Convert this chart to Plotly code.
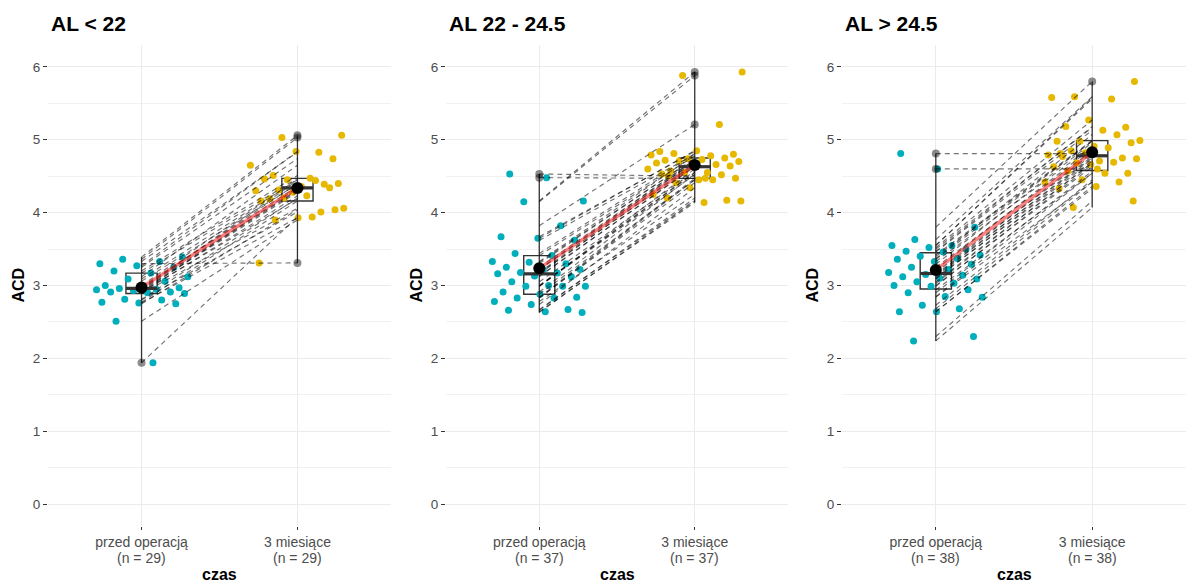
import numpy as np
import plotly.graph_objects as go

# ---- data -----------------------------------------------------------------
panel_titles = ["AL < 22", "AL 22 - 24.5", "AL > 24.5"]
time_labels = ["przed operacją", "3 miesiące"]
x_title = "czas"
y_title = "ACD"
y_ticks = [0, 1, 2, 3, 4, 5, 6]

# ACD per eye: before surgery and 3 months later (same order = same eye)
acd_pre_al_lt22 = [1.94, 2.51, 2.75, 2.76, 2.77, 2.80, 2.81, 2.89, 2.90, 2.91,
                   2.91, 2.93, 2.94, 2.95, 2.96, 2.97, 2.98, 3.00, 3.06, 3.09,
                   3.12, 3.17, 3.20, 3.25, 3.27, 3.30, 3.33, 3.36, 3.39]
acd_post_al_lt22 = [3.94, 3.90, 4.04, 3.93, 4.16, 4.01, 4.20, 4.06, 4.23, 4.19,
                    4.34, 4.28, 4.30, 4.44, 4.31, 4.40, 4.36, 4.46, 4.39, 4.45,
                    4.65, 4.47, 4.51, 4.74, 4.84, 3.31, 4.83, 5.03, 5.06]

acd_pre_al_mid = [2.63, 2.64, 2.66, 2.67, 2.74, 2.78, 2.83, 2.83, 2.84, 2.88,
                  2.91, 2.99, 2.99, 2.99, 3.00, 3.05, 3.12, 3.13, 3.16, 3.17,
                  3.18, 3.22, 3.22, 3.25, 3.30, 3.32, 3.33, 3.41, 3.44, 3.62,
                  3.65, 3.67, 3.82, 4.15, 4.16, 4.48, 4.53]
acd_post_al_mid = [4.16, 4.14, 4.20, 4.17, 4.34, 4.25, 4.45, 4.41, 4.47, 4.45,
                   4.53, 4.52, 4.55, 4.60, 4.55, 4.57, 4.64, 4.63, 4.68, 4.66,
                   4.71, 4.70, 4.73, 4.72, 4.75, 4.74, 4.79, 4.78, 4.81, 4.80,
                   4.85, 4.84, 5.21, 5.88, 5.93, 4.47, 4.50]

acd_pre_al_gt245 = [2.24, 2.30, 2.64, 2.64, 2.68, 2.73, 2.84, 2.85, 2.90, 2.94,
                    2.99, 3.00, 3.03, 3.05, 3.09, 3.10, 3.12, 3.14, 3.15, 3.18,
                    3.22, 3.25, 3.29, 3.33, 3.36, 3.37, 3.40, 3.42, 3.46, 3.47,
                    3.50, 3.52, 3.55, 3.55, 3.63, 3.80, 4.60, 4.81]
acd_post_al_gt245 = [4.07, 4.16, 4.36, 4.33, 4.42, 4.45, 4.42, 4.54, 4.57, 4.54,
                     4.66, 4.63, 4.69, 4.68, 4.74, 4.71, 4.77, 4.75, 4.82, 4.79,
                     4.89, 4.85, 4.96, 4.91, 4.98, 5.07, 4.98, 4.99, 5.13, 5.18,
                     5.17, 5.27, 5.58, 5.56, 5.59, 5.80, 4.60, 4.81]

panels = [
    (panel_titles[0], acd_pre_al_lt22, acd_post_al_lt22),
    (panel_titles[1], acd_pre_al_mid, acd_post_al_mid),
    (panel_titles[2], acd_pre_al_gt245, acd_post_al_gt245),
]

# ---- styling ----------------------------------------------------------------
W, H = 1189, 583
FONT = "Liberation Sans, Arial, sans-serif"
GROUP_COLORS = ["#00AFBB", "#E7B800"]
INK = "#333333"
TICK_TXT = "#4D4D4D"
GRID = "#EBEBEB"
X_POS = [1, 2]
BOX_W = 0.2

# plot-area pixel boxes (left, right) and shared vertical extent
panel_px = [(48, 391), (446, 788), (842, 1186)]
top_px, bottom_px = 45, 526
y_dom = [1 - bottom_px / H, 1 - top_px / H]

fig = go.Figure()
golden = 0.6180339887

for p, (title, pre, post) in enumerate(panels):
    xa = "x" if p == 0 else f"x{p + 1}"
    ya = "y" if p == 0 else f"y{p + 1}"
    common = dict(xaxis=xa, yaxis=ya, showlegend=False, hoverinfo="skip")
    groups = [np.asarray(pre, float), np.asarray(post, float)]

    # jittered raw observations
    for g, vals in enumerate(groups):
        k = np.arange(len(vals)) + 1 + 13 * g + 7 * p
        jit = ((k * golden) % 1.0 - 0.5) * 0.62
        fig.add_trace(go.Scatter(
            x=X_POS[g] + jit, y=vals, mode="markers",
            marker=dict(color=GROUP_COLORS[g], size=7, line=dict(width=0)),
            **common))

    q1 = [float(np.percentile(v, 25)) for v in groups]
    med = [float(np.percentile(v, 50)) for v in groups]
    q3 = [float(np.percentile(v, 75)) for v in groups]
    means = [float(v.mean()) for v in groups]

    # boxes (translucent white over the points)
    fig.add_trace(go.Box(
        x=X_POS, q1=q1, median=med, q3=q3, lowerfence=q1, upperfence=q3,
        orientation="v", width=BOX_W, whiskerwidth=0, boxpoints=False,
        fillcolor="rgba(255,255,255,0.55)", line=dict(color=INK, width=1.4),
        **common))

    # full range line per group
    rx, ry = [], []
    for g, vals in enumerate(groups):
        rx += [X_POS[g], X_POS[g], None]
        ry += [vals.min(), vals.max(), None]
    fig.add_trace(go.Scatter(x=rx, y=ry, mode="lines",
                             line=dict(color=INK, width=1.3), **common))

    # paired paths
    for a, b in zip(groups[0], groups[1]):
        fig.add_trace(go.Scatter(
            x=X_POS, y=[a, b], mode="lines",
            line=dict(color="rgba(0,0,0,0.55)", width=1.15, dash="5px,4px"),
            **common))

    # boxplot outliers (1.5 * IQR rule)
    ox, oy = [], []
    for g, vals in enumerate(groups):
        iqr = q3[g] - q1[g]
        out = vals[(vals < q1[g] - 1.5 * iqr) | (vals > q3[g] + 1.5 * iqr)]
        ox += [X_POS[g]] * len(out)
        oy += list(out)
    fig.add_trace(go.Scatter(x=ox, y=oy, mode="markers",
                             marker=dict(color="rgba(0,0,0,0.45)", size=8,
                                         line=dict(width=0)), **common))

    # thick median bars
    mx, my = [], []
    for g in range(2):
        mx += [X_POS[g] - BOX_W / 2, X_POS[g] + BOX_W / 2, None]
        my += [med[g], med[g], None]
    fig.add_trace(go.Scatter(x=mx, y=my, mode="lines",
                             line=dict(color=INK, width=3.2), **common))

    # mean path and mean points
    fig.add_trace(go.Scatter(x=X_POS, y=means, mode="lines",
                             line=dict(color="rgba(240,30,30,0.55)", width=3.4),
                             **common))
    fig.add_trace(go.Scatter(x=X_POS, y=means, mode="markers",
                             marker=dict(color="black", size=12), **common))

    # axes
    l_px, r_px = panel_px[p]
    x_dom = [l_px / W, r_px / W]
    fig.layout[("xaxis" if p == 0 else f"xaxis{p + 1}")] = dict(
        domain=x_dom, anchor=ya, range=[0.4, 2.6],
        tickvals=X_POS, ticktext=time_labels,
        showgrid=True, gridcolor=GRID, gridwidth=1.3, zeroline=False,
        showline=False, ticks="outside", ticklen=3, tickwidth=1, tickcolor=INK,
        tickfont=dict(family=FONT, size=14, color=TICK_TXT), fixedrange=True)
    fig.layout[("yaxis" if p == 0 else f"yaxis{p + 1}")] = dict(
        domain=y_dom, anchor=xa, range=[-0.3, 6.3],
        tickvals=y_ticks, showgrid=True, gridcolor=GRID, gridwidth=1.3,
        zeroline=False, showline=False, ticks="outside", ticklen=4,
        tickwidth=1, tickcolor=INK,
        tickfont=dict(family=FONT, size=13.5, color=TICK_TXT),
        minor=dict(dtick=0.5, tick0=0, showgrid=True, gridcolor="#F1F1F1",
                   gridwidth=0.8, ticks=""),
        fixedrange=True)

    # sample sizes under each category label
    for g in range(2):
        fig.add_annotation(text=f"(n = {len(groups[g])})", xref=xa, yref="paper",
                           x=X_POS[g], y=1 - 557.5 / H, xanchor="center",
                           yanchor="middle", showarrow=False,
                           font=dict(family=FONT, size=14, color=TICK_TXT))

    # panel title and axis titles
    safe_title = title.replace("<", "&lt;").replace(">", "&gt;")
    fig.add_annotation(text=f"<b>{safe_title}</b>", xref="paper", yref="paper",
                       x=(l_px + 1) / W, y=1 - 23 / H, xanchor="left",
                       yanchor="middle", showarrow=False,
                       font=dict(family=FONT, size=21, color="black"))
    fig.add_annotation(text=f"<b>{y_title}</b>", xref="paper", yref="paper",
                       x=(l_px - 30) / W, y=(y_dom[0] + y_dom[1]) / 2,
                       xanchor="center", yanchor="middle", textangle=-90,
                       showarrow=False,
                       font=dict(family=FONT, size=16, color="black"))
    fig.add_annotation(text=f"<b>{x_title}</b>", xref="paper", yref="paper",
                       x=(l_px + r_px) / 2 / W, y=1 - 574 / H,
                       xanchor="center", yanchor="middle", showarrow=False,
                       font=dict(family=FONT, size=16, color="black"))

fig.update_layout(
    width=W, height=H, margin=dict(l=0, r=0, t=0, b=0),
    paper_bgcolor="white", plot_bgcolor="white", boxmode="overlay",
    font=dict(family=FONT),
)

fig.write_html("out.html", include_plotlyjs=True, config={"displayModeBar": False})
